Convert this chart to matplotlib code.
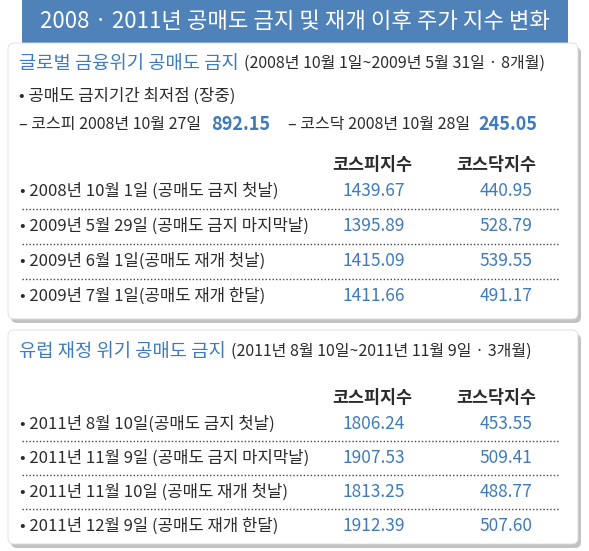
import matplotlib
matplotlib.use("Agg")
import matplotlib.pyplot as plt
from matplotlib.patches import FancyBboxPatch

plt.rcParams['font.family'] = ['Noto Sans CJK KR', 'DejaVu Sans']

title = "2008 · 2011년 공매도 금지 및 재개 이후 주가 지수 변화"

sec1_head = "글로벌 금융위기 공매도 금지"
sec1_period = "(2008년 10월 1일~2009년 5월 31일 · 8개월)"
low_title = "• 공매도 금지기간 최저점 (장중)"
low_labels = ["– 코스피 2008년 10월 27일", "– 코스닥 2008년 10월 28일"]
low_values = ["892.15", "245.05"]
sec1_rows = ["• 2008년 10월 1일 (공매도 금지 첫날)",
             "• 2009년 5월 29일 (공매도 금지 마지막날)",
             "• 2009년 6월 1일(공매도 재개 첫날)",
             "• 2009년 7월 1일(공매도 재개 한달)"]
sec1_kospi = ["1439.67", "1395.89", "1415.09", "1411.66"]
sec1_kosdaq = ["440.95", "528.79", "539.55", "491.17"]

sec2_head = "유럽 재정 위기 공매도 금지"
sec2_period = "(2011년 8월 10일~2011년 11월 9일 · 3개월)"
sec2_rows = ["• 2011년 8월 10일(공매도 금지 첫날)",
             "• 2011년 11월 9일 (공매도 금지 마지막날)",
             "• 2011년 11월 10일 (공매도 재개 첫날)",
             "• 2011년 12월 9일 (공매도 재개 한달)"]
sec2_kospi = ["1806.24", "1907.53", "1813.25", "1912.39"]
sec2_kosdaq = ["453.55", "509.41", "488.77", "507.60"]

col_names = ["코스피지수", "코스닥지수"]

BLUE = "#3f7bbb"
DARK = "#2b2b2b"

fig = plt.figure(figsize=(5.89, 5.51), dpi=100)
ax = fig.add_axes([0, 0, 1, 1])
ax.set_xlim(0, 589)
ax.set_ylim(551, 0)
ax.axis("off")
renderer = fig.canvas.get_renderer()


def chain(x, y, parts):
    # put text pieces one after another on the same line
    for s, kw, gap in parts:
        t = ax.text(x, y, s, ha="left", va="center", **kw)
        bb = t.get_window_extent(renderer=renderer)
        x = x + bb.width + gap
    return x


# title band
ax.add_patch(FancyBboxPatch((22, -10), 546, 60, boxstyle="round,pad=0,rounding_size=8",
                            fc="#4f82b8", ec="none"))
ax.text(295, 21, title, color="white", fontsize=16, ha="center", va="center")


def box(y0, h):
    ax.add_patch(FancyBboxPatch((11, y0 + 4), 570, h, boxstyle="round,pad=0,rounding_size=6",
                                fc="#9a9a9a", ec="none", alpha=0.6))
    ax.add_patch(FancyBboxPatch((8, y0), 570, h, boxstyle="round,pad=0,rounding_size=6",
                                fc="white", ec="#dddddd", lw=0.6))


def table(y_head, rows, kospi, kosdaq, step):
    ax.text(372, y_head, col_names[0], color=DARK, fontsize=12.5, fontweight="bold",
            ha="center", va="center")
    ax.text(496, y_head, col_names[1], color=DARK, fontsize=12.5, fontweight="bold",
            ha="center", va="center")
    for i, (lab, a, b) in enumerate(zip(rows, kospi, kosdaq)):
        y = y_head + 26 + i * step
        ax.text(20, y, lab, color=DARK, fontsize=12, ha="left", va="center")
        ax.text(374, y, a, color=BLUE, fontsize=12.5, fontweight="medium", ha="center", va="center")
        ax.text(506, y, b, color=BLUE, fontsize=12.5, fontweight="medium", ha="center", va="center")
        if i < len(rows) - 1:
            ax.plot([22, 560], [y + step / 2, y + step / 2], color="#444444", lw=1,
                    ls=(0, (1, 1.5)))


head_kw = dict(color=BLUE, fontsize=13.5, fontweight="medium")
period_kw = dict(color=DARK, fontsize=11.5)
lab_kw = dict(color=DARK, fontsize=11.5)
val_kw = dict(color=BLUE, fontsize=13, fontweight="bold")

# box 1
box(43, 276)
chain(19, 63, [(sec1_head, head_kw, 5), (sec1_period, period_kw, 0)])
ax.text(19, 96, low_title, color=DARK, fontsize=12, fontweight="medium", ha="left", va="center")
chain(19, 125, [(low_labels[0], lab_kw, 10), (low_values[0], val_kw, 18),
                (low_labels[1], lab_kw, 8), (low_values[1], val_kw, 0)])
table(165, sec1_rows, sec1_kospi, sec1_kosdaq, 35)

# box 2
box(330, 214)
chain(19, 351, [(sec2_head, head_kw, 5), (sec2_period, period_kw, 0)])
table(398, sec2_rows, sec2_kospi, sec2_kosdaq, 34)

fig.savefig("out.png", dpi=100, facecolor="white")
